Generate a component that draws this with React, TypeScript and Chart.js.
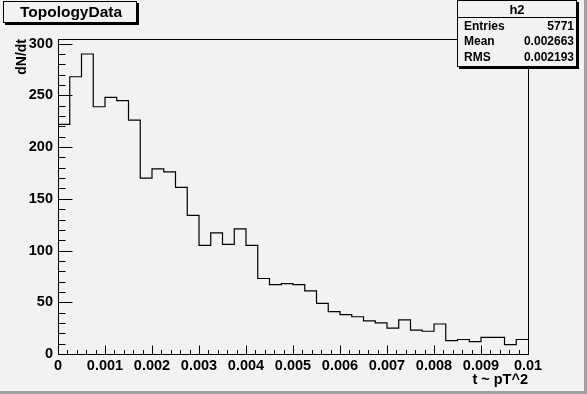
import React, { useEffect, useRef } from 'react';
import { Chart, registerables } from 'chart.js';

Chart.register(...registerables);

// ---- data ----
const binWidth = 0.00025;
const counts = [
  222, 268, 290, 239, 248, 245, 226, 170, 179, 176,
  161, 134, 105, 117, 106, 121, 105, 73, 67, 68,
  67, 61, 49, 41, 38, 36, 32, 30, 25, 33,
  23, 22, 29, 13, 14, 12, 16, 16, 9, 14,
];
const xTickLabels = ['0', '0.001', '0.002', '0.003', '0.004', '0.005', '0.006', '0.007', '0.008', '0.009', '0.01'];
const yTickLabels = ['0', '50', '100', '150', '200', '250', '300'];
const statLabels = ['Entries', 'Mean', 'RMS'];
const statValues = ['5771', '0.002663', '0.002193'];
const histName = 'h2';
const titleText = 'TopologyData';
const xTitle = 't ~ pT^2';
const yTitle = 'dN/dt';

const X_MIN = 0;
const X_MAX = 0.01;
const X_MINOR = 0.0002;
const Y_MAX = 304.5;
const Y_MINOR = 10;

const FONT = '"Liberation Sans", Arial, Helvetica, sans-serif';
const BG = '#f2f2f2';

const rootPlugin = {
  id: 'rootDecor',
  beforeDraw(chart: any) {
    const { ctx, width, height } = chart;
    ctx.save();
    ctx.fillStyle = BG;
    ctx.fillRect(0, 0, width, height);
    ctx.restore();
  },
  afterDraw(chart: any) {
    const { ctx, chartArea, width, height } = chart;
    const xs = chart.scales.x;
    const ys = chart.scales.y;
    const L = Math.round(chartArea.left) + 0.5;
    const R = Math.round(chartArea.right) + 0.5;
    const T = Math.round(chartArea.top) + 0.5;
    const B = Math.round(chartArea.bottom) + 0.5;
    ctx.save();
    ctx.strokeStyle = '#000';
    ctx.lineWidth = 1;
    // frame
    ctx.strokeRect(L, T, R - L, B - T);
    // y ticks
    const yMajorLen = 14;
    ys.ticks.forEach((t: any) => {
      const k = Math.round(t.value / Y_MINOR);
      const len = k % 5 === 0 ? yMajorLen : yMajorLen / 2;
      const py = Math.round(ys.getPixelForValue(t.value)) + 0.5;
      ctx.beginPath();
      ctx.moveTo(L, py);
      ctx.lineTo(L + len, py);
      ctx.stroke();
    });
    // x ticks
    const xMajorLen = 9;
    xs.ticks.forEach((t: any) => {
      const k = Math.round(t.value / X_MINOR);
      const len = k % 5 === 0 ? xMajorLen : xMajorLen / 2;
      const px = Math.round(xs.getPixelForValue(t.value)) + 0.5;
      ctx.beginPath();
      ctx.moveTo(px, B);
      ctx.lineTo(px, B - len);
      ctx.stroke();
    });

    // title box
    const drawBox = (x0: number, y0: number, x1: number, y1: number) => {
      ctx.fillStyle = '#000';
      ctx.fillRect(x1, y0 + 2, 2, y1 - y0);
      ctx.fillRect(x0 + 2, y1, x1 - x0, 2);
      ctx.fillStyle = BG;
      ctx.fillRect(x0, y0, x1 - x0, y1 - y0);
      ctx.strokeStyle = '#000';
      ctx.strokeRect(x0 + 0.5, y0 + 0.5, x1 - x0 - 1, y1 - y0 - 1);
    };
    drawBox(3, 1, 137, 23);
    ctx.fillStyle = '#000';
    ctx.font = `bold 15.5px ${FONT}`;
    ctx.textAlign = 'center';
    ctx.textBaseline = 'middle';
    ctx.fillText(titleText, 71, 12.5);

    // stat box
    drawBox(457, 0, 577, 67);
    ctx.beginPath();
    ctx.moveTo(457, 17.5);
    ctx.lineTo(577, 17.5);
    ctx.stroke();
    ctx.fillStyle = '#000';
    ctx.font = `bold 13px ${FONT}`;
    ctx.textAlign = 'center';
    ctx.fillText(histName, 517, 10);
    ctx.font = `bold 12px ${FONT}`;
    const rowY = [27, 42, 58];
    statLabels.forEach((lab, i) => {
      ctx.textAlign = 'left';
      ctx.fillText(lab, 464, rowY[i]);
      ctx.textAlign = 'right';
      ctx.fillText(statValues[i], 574, rowY[i]);
    });

    // canvas bevel
    ctx.fillStyle = '#a0a0a0';
    ctx.fillRect(width - 3, 0, 3, height);
    ctx.fillRect(0, height - 3, width, 3);
    ctx.restore();
  },
};

export default function App() {
  const ref = useRef<HTMLCanvasElement | null>(null);
  useEffect(() => {
    if (!ref.current) return;
    const pts = counts.map((c, i) => ({ x: X_MIN + i * binWidth, y: c }));
    pts.push({ x: X_MIN + counts.length * binWidth, y: counts[counts.length - 1] });
    const tickFont = { family: FONT, size: 14.5, weight: 'bold' as const };
    const chart = new Chart(ref.current, {
      type: 'line',
      data: {
        datasets: [
          {
            label: histName,
            data: pts,
            stepped: 'before',
            borderColor: '#000',
            borderWidth: 1.2,
            pointRadius: 0,
            fill: false,
          },
        ],
      },
      options: {
        responsive: false,
        animation: false,
        events: [],
        layout: { padding: { left: 0, top: 39, right: 59, bottom: 0 } },
        plugins: { legend: { display: false }, tooltip: { enabled: false }, title: { display: false } },
        scales: {
          x: {
            type: 'linear',
            min: X_MIN,
            max: X_MAX,
            border: { display: false },
            grid: { display: false, drawTicks: false },
            ticks: {
              stepSize: X_MINOR,
              maxTicksLimit: 1000,
              autoSkip: false,
              maxRotation: 0,
              minRotation: 0,
              includeBounds: false,
              padding: 3,
              color: '#000',
              font: tickFont,
              callback: (v: any) => {
                const k = Math.round(Number(v) / X_MINOR);
                if (k % 5 !== 0) return '';
                return xTickLabels[k / 5] ?? '';
              },
            },
            title: {
              display: true,
              text: xTitle,
              align: 'end',
              color: '#000',
              font: { family: FONT, size: 14.5, weight: 'bold' },
              padding: { top: 0, bottom: 5 },
            },
            afterFit: (s: any) => {
              s.height = 40;
            },
          },
          y: {
            type: 'linear',
            min: 0,
            max: Y_MAX,
            border: { display: false },
            grid: { display: false, drawTicks: false },
            ticks: {
              stepSize: Y_MINOR,
              maxTicksLimit: 1000,
              autoSkip: false,
              includeBounds: false,
              padding: 5,
              color: '#000',
              font: tickFont,
              callback: (v: any) => {
                const k = Math.round(Number(v) / Y_MINOR);
                if (k % 5 !== 0) return '';
                return yTickLabels[k / 5] ?? '';
              },
            },
            title: {
              display: true,
              text: yTitle,
              align: 'end',
              color: '#000',
              font: { family: FONT, size: 14, weight: 'bold' },
              padding: { top: 14, bottom: 0 },
            },
            afterFit: (s: any) => {
              s.width = 58;
            },
          },
        },
      },
      plugins: [rootPlugin],
    });
    return () => chart.destroy();
  }, []);
  return (
    <div style={{ position: 'fixed', left: 0, top: 0, width: 587, height: 394 }}>
      <canvas ref={ref} width={587} height={394} style={{ display: 'block' }} />
    </div>
  );
}
